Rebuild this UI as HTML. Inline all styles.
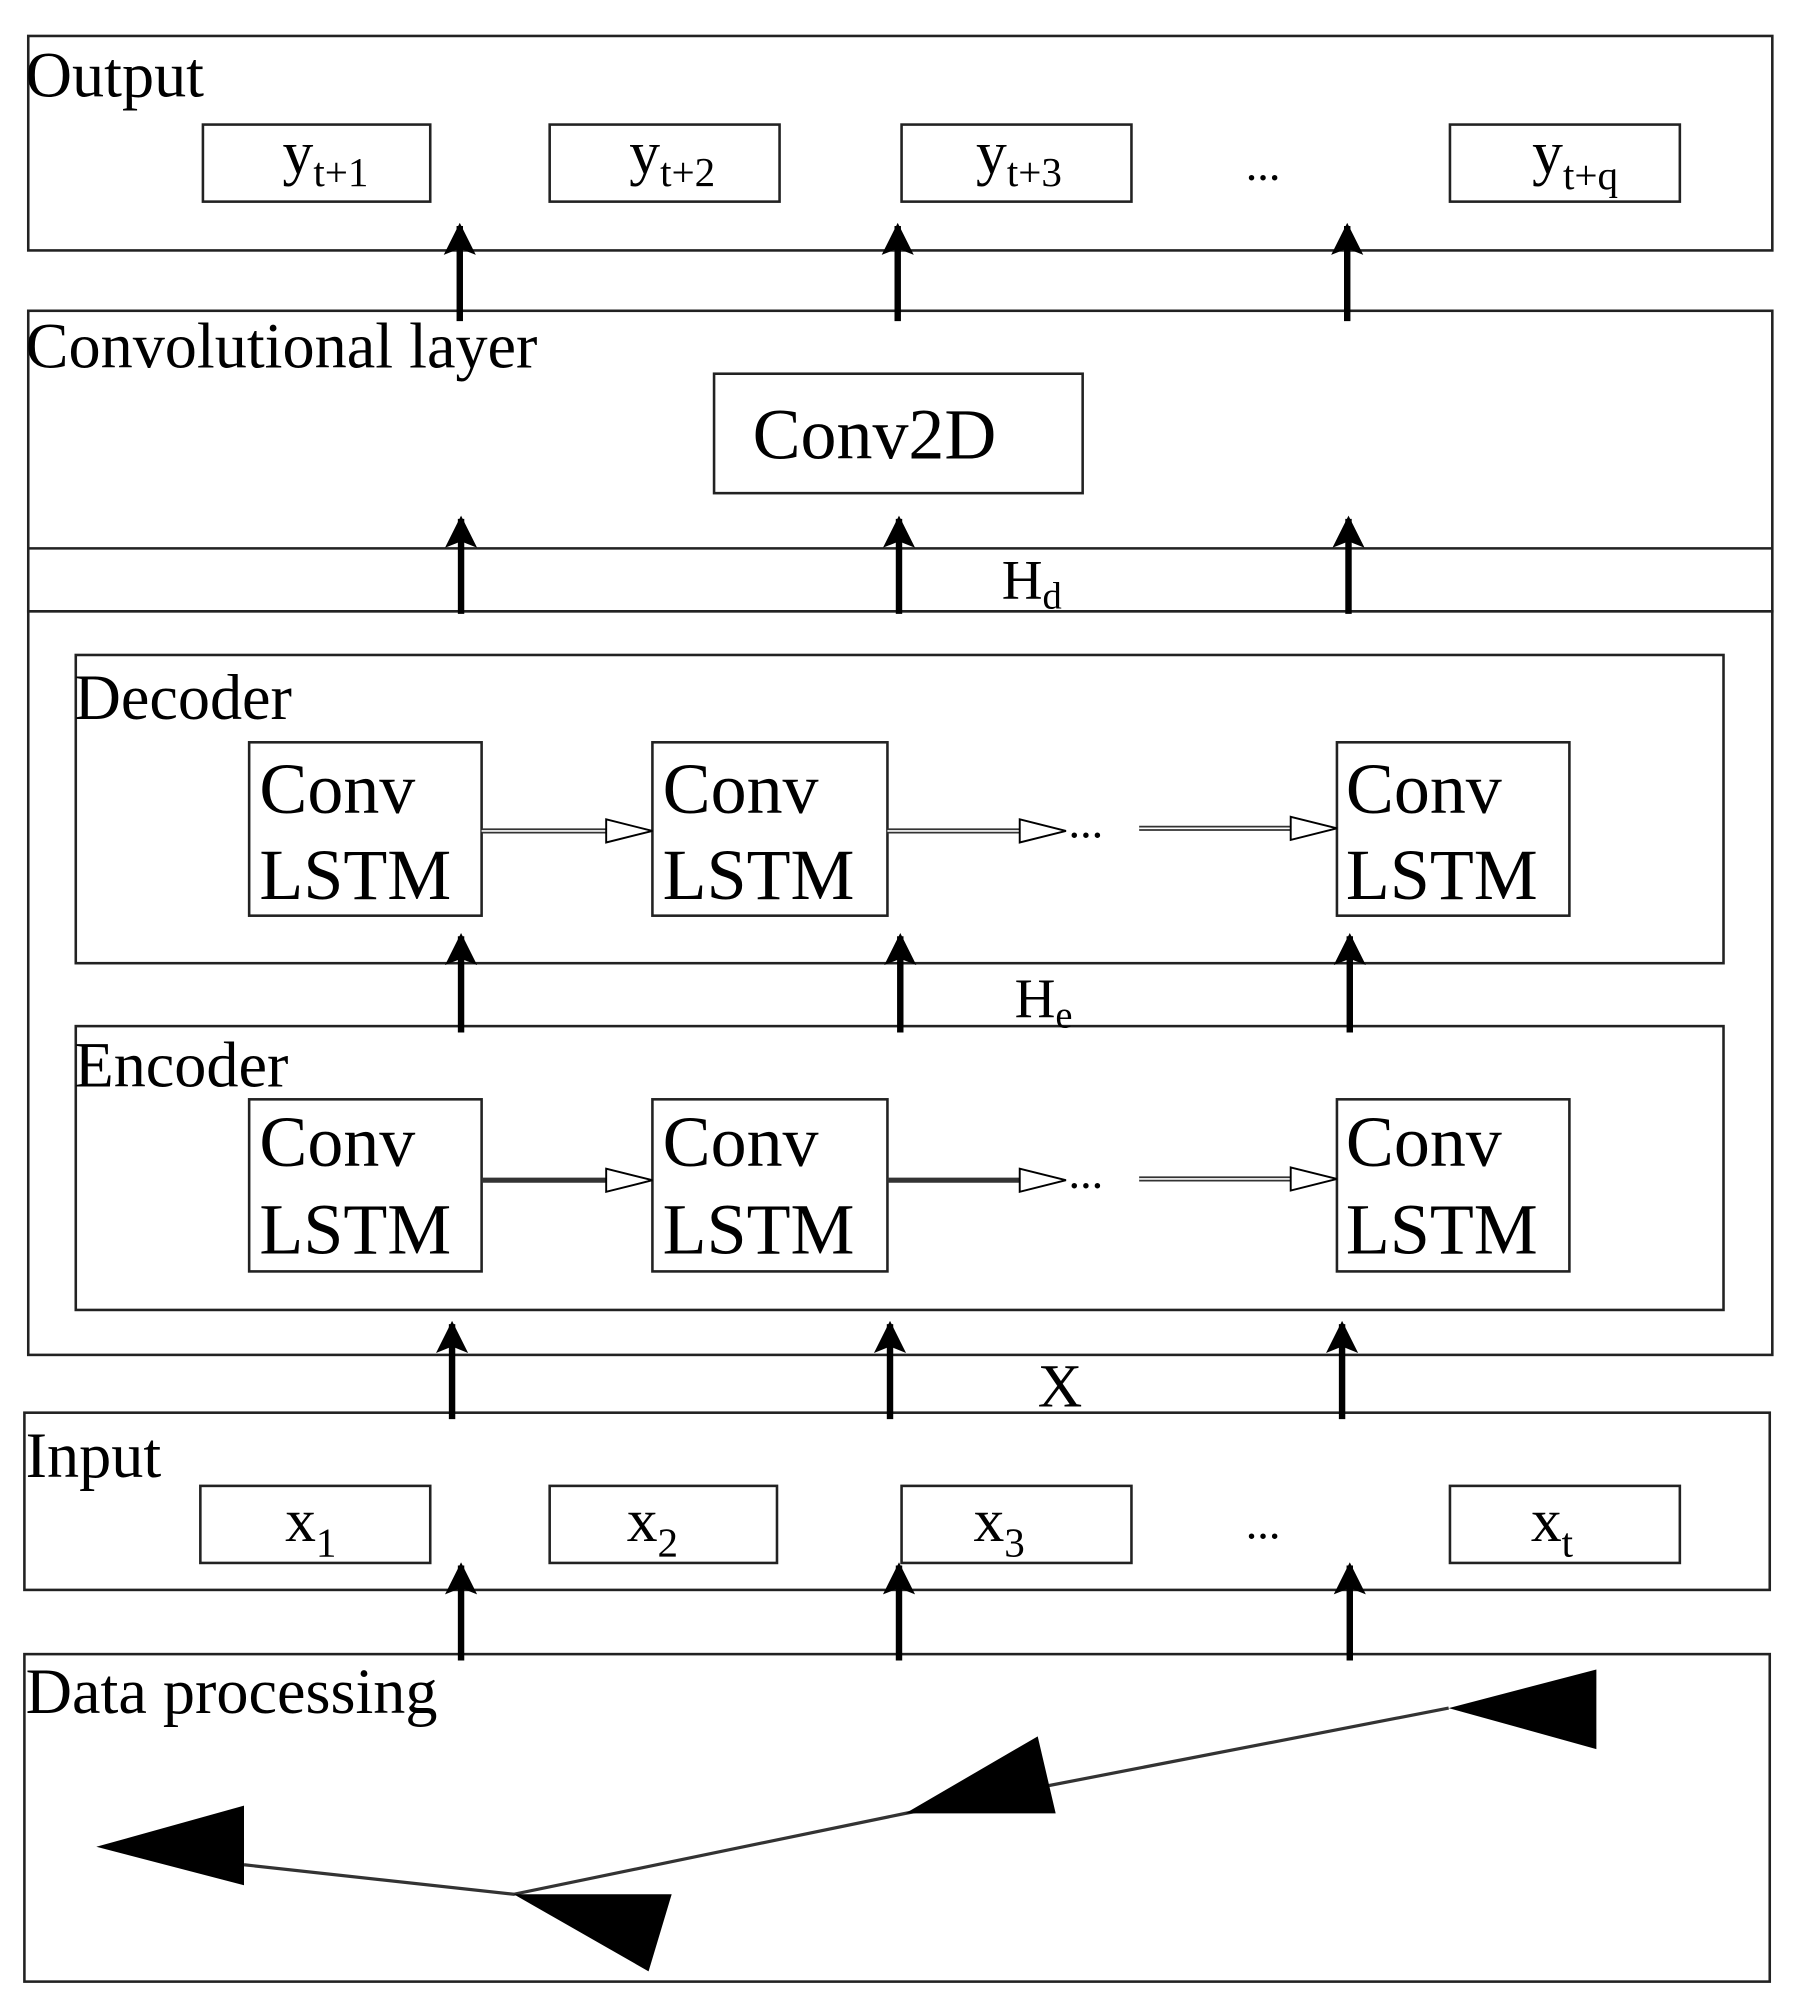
<!DOCTYPE html>
<html><head><meta charset="utf-8"><style>
html,body{margin:0;padding:0;background:#fff;}
svg{display:block;}
text{font-family:"Liberation Serif",serif;fill:#000;}
</style></head><body>
<svg width="1798" height="2015" viewBox="0 0 1400 1569" preserveAspectRatio="none" xmlns="http://www.w3.org/2000/svg">
<defs>
<marker id="ah" viewBox="0 0 10 10" refX="9" refY="5" markerWidth="5" markerHeight="7" markerUnits="strokeWidth" orient="auto">
<path d="M0,0 L10,5 L0,10 L2,5 z" fill="#000"/></marker>
<marker id="ho" viewBox="0 0 20 12" refX="20" refY="6" markerWidth="36" markerHeight="22" markerUnits="userSpaceOnUse" orient="auto">
<path d="M0.5,0.5 L19.5,6 L0.5,11.5 z" fill="#fff" stroke="#000" stroke-width="1"/></marker>
</defs>
<g fill="none" stroke="#222" stroke-width="2">
<rect x="22" y="28" width="1358" height="167"/>
<rect x="158" y="97" width="177" height="60"/>
<rect x="428" y="97" width="179" height="60"/>
<rect x="702" y="97" width="179" height="60"/>
<rect x="1129" y="97" width="179" height="60"/>
<rect x="22" y="242" width="1358" height="234"/>
<line x1="22" y1="427" x2="1380" y2="427"/>
<rect x="556" y="291" width="287" height="93"/>
<rect x="22" y="476" width="1358" height="579"/>
<rect x="59" y="510" width="1283" height="240"/>
<rect x="59" y="799" width="1283" height="221"/>
<rect x="194" y="578" width="181" height="135"/>
<rect x="508" y="578" width="183" height="135"/>
<rect x="1041" y="578" width="181" height="135"/>
<rect x="194" y="856" width="181" height="134"/>
<rect x="508" y="856" width="183" height="134"/>
<rect x="1041" y="856" width="181" height="134"/>
<rect x="19" y="1100" width="1359" height="138"/>
<rect x="156" y="1157" width="179" height="60"/>
<rect x="428" y="1157" width="177" height="60"/>
<rect x="702" y="1157" width="179" height="60"/>
<rect x="1129" y="1157" width="179" height="60"/>
<rect x="19" y="1288" width="1359" height="255"/>
</g>
<g stroke="#000" stroke-width="5" marker-end="url(#ah)">
<line x1="358" y1="250" x2="358" y2="176"/>
<line x1="699" y1="250" x2="699" y2="176"/>
<line x1="1049" y1="250" x2="1049" y2="176"/>
<line x1="359" y1="478" x2="359" y2="404"/>
<line x1="700" y1="478" x2="700" y2="404"/>
<line x1="1050" y1="478" x2="1050" y2="404"/>
<line x1="359" y1="804" x2="359" y2="729"/>
<line x1="701" y1="804" x2="701" y2="729"/>
<line x1="1051" y1="804" x2="1051" y2="729"/>
<line x1="352" y1="1105" x2="352" y2="1031"/>
<line x1="693" y1="1105" x2="693" y2="1031"/>
<line x1="1045" y1="1105" x2="1045" y2="1031"/>
<line x1="359" y1="1293" x2="359" y2="1219"/>
<line x1="700" y1="1293" x2="700" y2="1219"/>
<line x1="1051" y1="1293" x2="1051" y2="1219"/>
</g>
<g stroke="#333" stroke-width="4">
<line x1="375" y1="647" x2="475" y2="647"/>
<line x1="691" y1="647" x2="796" y2="647"/>
<line x1="887" y1="645" x2="1008" y2="645"/>
<line x1="375" y1="919" x2="475" y2="919"/>
<line x1="691" y1="919" x2="796" y2="919"/>
<line x1="887" y1="918" x2="1008" y2="918"/>
</g>
<g stroke="#fff" stroke-width="1.3">
<line x1="375" y1="647" x2="475" y2="647"/>
<line x1="691" y1="647" x2="796" y2="647"/>
<line x1="887" y1="645" x2="1008" y2="645"/>
<line x1="887" y1="918" x2="1008" y2="918"/>
</g>
<g fill="#fff" stroke="#000" stroke-width="1.5">
<path d="M472,638 L508,647 L472,656 z"/>
<path d="M794,638 L830,647 L794,656 z"/>
<path d="M1005,636 L1041,645 L1005,654 z"/>
<path d="M472,910 L508,919 L472,928 z"/>
<path d="M794,910 L830,919 L794,928 z"/>
<path d="M1005,909 L1041,918 L1005,927 z"/>
</g>
<polyline points="190,1452 400,1475 705,1412 1128,1330" fill="none" stroke="#333" stroke-width="2.5"/>
<g fill="#000">
<polygon points="75,1438 190,1406 190,1468"/>
<polygon points="400,1475 523,1475 505,1535"/>
<polygon points="705,1412 822,1412 808,1352"/>
<polygon points="1128,1330 1243,1300 1243,1362"/>
</g>
<g font-size="50">
<text x="20" y="75">Output</text>
<text x="20" y="286">Convolutional layer</text>
<text x="58" y="560">Decoder</text>
<text x="58" y="846">Encoder</text>
<text x="20" y="1150">Input</text>
<text x="20" y="1334">Data processing</text>
</g>
<g font-size="48">
<text x="220" y="135">y<tspan font-size="32" dy="10">t+1</tspan></text>
<text x="490" y="135">y<tspan font-size="32" dy="10">t+2</tspan></text>
<text x="760" y="135">y<tspan font-size="32" dy="10">t+3</tspan></text>
<text x="1193" y="135">y<tspan font-size="32" dy="12">t+q</tspan></text>
<text x="970" y="140" font-size="36">...</text>
<text x="222" y="1200">x<tspan font-size="32" dy="12">1</tspan></text>
<text x="488" y="1200">x<tspan font-size="32" dy="12">2</tspan></text>
<text x="758" y="1200">x<tspan font-size="32" dy="12">3</tspan></text>
<text x="1192" y="1200">x<tspan font-size="32" dy="12">t</tspan></text>
<text x="970" y="1198" font-size="36">...</text>
<text x="780" y="466" font-size="44">H<tspan font-size="30" dy="8">d</tspan></text>
<text x="790" y="792" font-size="44">H<tspan font-size="30" dy="8">e</tspan></text>
<text x="808" y="1095" font-size="48">X</text>
<text x="832" y="652" font-size="36">...</text>
<text x="832" y="925" font-size="36">...</text>
</g>
<text x="586" y="357" font-size="56">Conv2D</text>
<g font-size="56">
<text x="202" y="633">Conv</text><text x="202" y="700">LSTM</text>
<text x="516" y="633">Conv</text><text x="516" y="700">LSTM</text>
<text x="1048" y="633">Conv</text><text x="1048" y="700">LSTM</text>
<text x="202" y="908">Conv</text><text x="202" y="976">LSTM</text>
<text x="516" y="908">Conv</text><text x="516" y="976">LSTM</text>
<text x="1048" y="908">Conv</text><text x="1048" y="976">LSTM</text>
</g>
</svg>
</body></html>
